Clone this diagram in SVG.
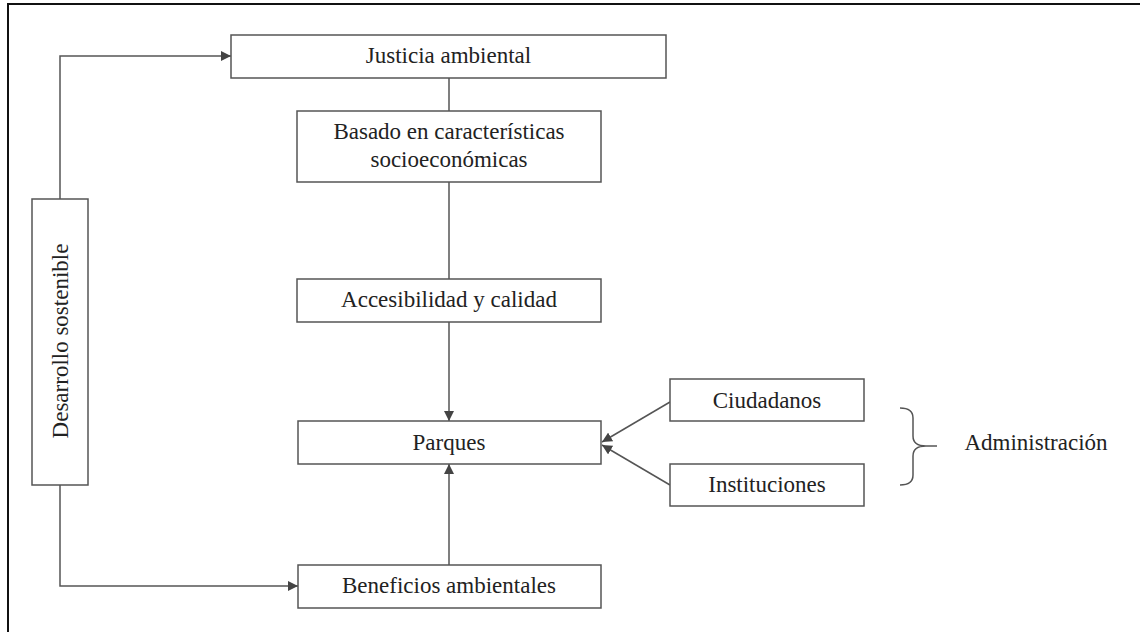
<svg xmlns="http://www.w3.org/2000/svg" width="1140" height="632" viewBox="0 0 1140 632">
<style>
.box{fill:#fff;stroke:#555;stroke-width:1.5}
.t{font-family:"Liberation Serif","Times New Roman",serif;font-size:23px;fill:#222;text-anchor:middle}
.c{fill:none;stroke:#555;stroke-width:1.5}
</style>
<defs>
<marker id="ah" viewBox="0 0 10 10" refX="10" refY="5" markerWidth="10" markerHeight="10" markerUnits="userSpaceOnUse" orient="auto">
<path d="M0,0 L10,5 L0,10 z" fill="#444"/>
</marker>
</defs>
<rect width="1140" height="632" fill="#fff"/>
<path d="M8,632 V4 H1140" fill="none" stroke="#111" stroke-width="2"/>
<g id="connectors">
<line class="c" x1="449" y1="78" x2="449" y2="111"/>
<line class="c" x1="449" y1="182" x2="449" y2="279"/>
<line class="c" x1="449" y1="322" x2="449" y2="421" marker-end="url(#ah)"/>
<line class="c" x1="449" y1="565" x2="449" y2="464" marker-end="url(#ah)"/>
<polyline class="c" points="60,199 60,56 231,56" marker-end="url(#ah)"/>
<polyline class="c" points="60,485 60,586 298,586" marker-end="url(#ah)"/>
<line class="c" x1="670" y1="402" x2="602" y2="442" marker-end="url(#ah)"/>
<line class="c" x1="670" y1="485" x2="602" y2="445" marker-end="url(#ah)"/>
</g>
<g id="justicia"><rect class="box" x="231" y="35" width="435" height="43"/><text class="t" x="448.5" y="63">Justicia ambiental</text></g>
<g id="basado"><rect class="box" x="297" y="111" width="304" height="71"/><text class="t" x="449" y="139">Basado en características</text><text class="t" x="449" y="167">socioeconómicas</text></g>
<g id="accesibilidad"><rect class="box" x="297" y="279" width="304" height="43"/><text class="t" x="449" y="307">Accesibilidad y calidad</text></g>
<g id="parques"><rect class="box" x="298" y="421" width="303" height="43"/><text class="t" x="449" y="450">Parques</text></g>
<g id="beneficios"><rect class="box" x="298" y="565" width="303" height="43"/><text class="t" x="449" y="593">Beneficios ambientales</text></g>
<g id="desarrollo"><rect class="box" x="32" y="199" width="56" height="286"/><text class="t" transform="translate(68,341) rotate(-90)">Desarrollo sostenible</text></g>
<g id="ciudadanos"><rect class="box" x="670" y="379" width="194" height="42"/><text class="t" x="767" y="408">Ciudadanos</text></g>
<g id="instituciones"><rect class="box" x="670" y="464" width="194" height="42"/><text class="t" x="767" y="492">Instituciones</text></g>
<g id="administracion">
<path class="c" d="M900,408 Q913,408 913,418 V436 Q913,446 926,446 Q913,446 913,456 V475 Q913,485 900,485 M926,446 H937"/>
<text class="t" x="1036" y="450">Administración</text>
</g>
</svg>
